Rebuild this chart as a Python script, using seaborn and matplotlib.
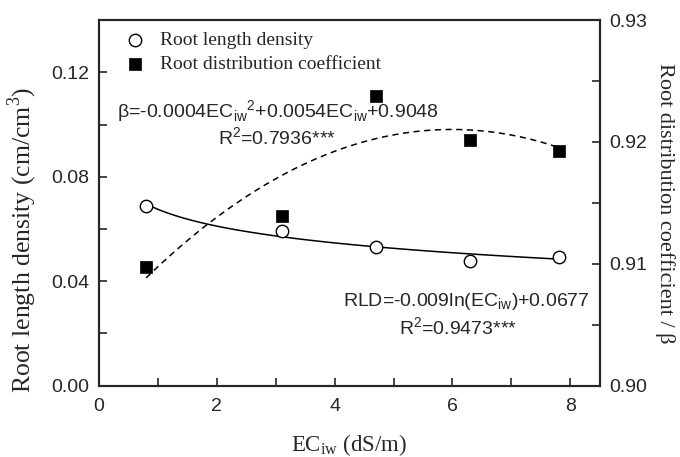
import numpy as np
import pandas as pd
import seaborn as sns
import matplotlib.pyplot as plt
from matplotlib.ticker import MultipleLocator

# data
ec_iw = [0.8, 3.1, 4.7, 6.3, 7.8]
rld = [0.0689, 0.0594, 0.0532, 0.0479, 0.0494]
beta = [0.9097, 0.9139, 0.9238, 0.9202, 0.9193]
df = pd.DataFrame({"EC": ec_iw, "RLD": rld, "beta": beta})

sns.set_style("ticks")
plt.rcParams['font.family'] = ['Liberation Sans', 'DejaVu Sans']
plt.rcParams['xtick.direction'] = 'in'
plt.rcParams['ytick.direction'] = 'in'

serif = ['Liberation Serif', 'DejaVu Serif']

fig = plt.figure(figsize=(6.8, 4.57), dpi=100)
ax = fig.add_axes([0.1456, 0.156, 0.7364, 0.8])
ax2 = ax.twinx()

# fitted curves
sns.regplot(data=df, x="EC", y="RLD", logx=True, scatter=False, ci=None,
            color='black', line_kws={'lw': 1.1}, ax=ax)
sns.regplot(data=df, x="EC", y="beta", order=2, scatter=False, ci=None,
            color='black', line_kws={'lw': 1.1, 'ls': (0, (4, 3))}, ax=ax2)

# points
sns.scatterplot(data=df, x="EC", y="RLD", marker='o', s=80, facecolor='white',
                edgecolor='black', linewidth=1.0, ax=ax, zorder=3,
                label="Root length density")
sns.scatterplot(data=df, x="EC", y="beta", marker='s', s=70, color='black',
                edgecolor='black', linewidth=0.5, ax=ax2, zorder=3,
                label="Root distribution coefficient")

ax.set_xlim(0, 8.5)
ax.set_ylim(0, 0.14)
ax2.set_ylim(0.90, 0.93)
ax.xaxis.set_major_locator(MultipleLocator(2))
ax.xaxis.set_minor_locator(MultipleLocator(1))
ax.yaxis.set_major_locator(MultipleLocator(0.04))
ax.yaxis.set_minor_locator(MultipleLocator(0.02))
ax2.yaxis.set_major_locator(MultipleLocator(0.01))
ax2.yaxis.set_minor_locator(MultipleLocator(0.005))
ax.yaxis.set_major_formatter(plt.FormatStrFormatter('%.2f'))
ax2.yaxis.set_major_formatter(plt.FormatStrFormatter('%.2f'))

ax.tick_params(axis='both', which='major', length=6, width=1.2, labelsize=14)
ax.tick_params(axis='both', which='minor', length=6, width=1.2)
ax.tick_params(axis='x', which='major', pad=9)
ax.tick_params(axis='y', which='major', pad=7)
ax.tick_params(axis='x', top=False, which='both')
ax2.tick_params(axis='y', which='major', length=6, width=1.2, labelsize=14, pad=7)
ax2.tick_params(axis='y', which='minor', length=6, width=1.2)
for a in (ax, ax2):
    for sp in a.spines.values():
        sp.set_linewidth(1.5)

ax.set_xlabel("EC$_{\\mathregular{iw}}$ (dS/m)", family=serif, fontsize=16.5, labelpad=12)
ax.set_ylabel("Root length density (cm/cm$^{\\mathregular{3}}$)", family=serif,
              fontsize=18.5)
ax.yaxis.set_label_coords(-0.12, 0.40)
ax2.set_ylabel("Root distribution coefficient / β", family=serif, fontsize=16,
               rotation=270, labelpad=20)

# legend
h1, l1 = ax.get_legend_handles_labels()
h2, l2 = ax2.get_legend_handles_labels()
ax.get_legend().remove()
ax2.legend(h1 + h2, l1 + l2, loc='upper left', frameon=False,
           prop={'family': serif, 'size': 14}, handletextpad=0.7,
           borderaxespad=0.2, borderpad=0.4, labelspacing=0.3, handlelength=1.2,
           bbox_to_anchor=(0.025, 1.0))

# equations
ax.text(0.3, 0.105, "β=-0.0004EC$_{\\mathregular{iw}}$$^{\\mathregular{2}}$+0.0054EC$_{\\mathregular{iw}}$+0.9048",
        fontsize=14, va='center', ha='left')
ax.text(2.02, 0.0950, "R$^{\\mathregular{2}}$=0.7936***", fontsize=14, va='center', ha='left')
ax.text(4.14, 0.0323, "RLD=-0.009ln(EC$_{\\mathregular{iw}}$)+0.0677",
        fontsize=14, va='center', ha='left')
ax.text(5.1, 0.0220, "R$^{\\mathregular{2}}$=0.9473***", fontsize=14, va='center', ha='left')

fig.savefig("out.png", dpi=100)
